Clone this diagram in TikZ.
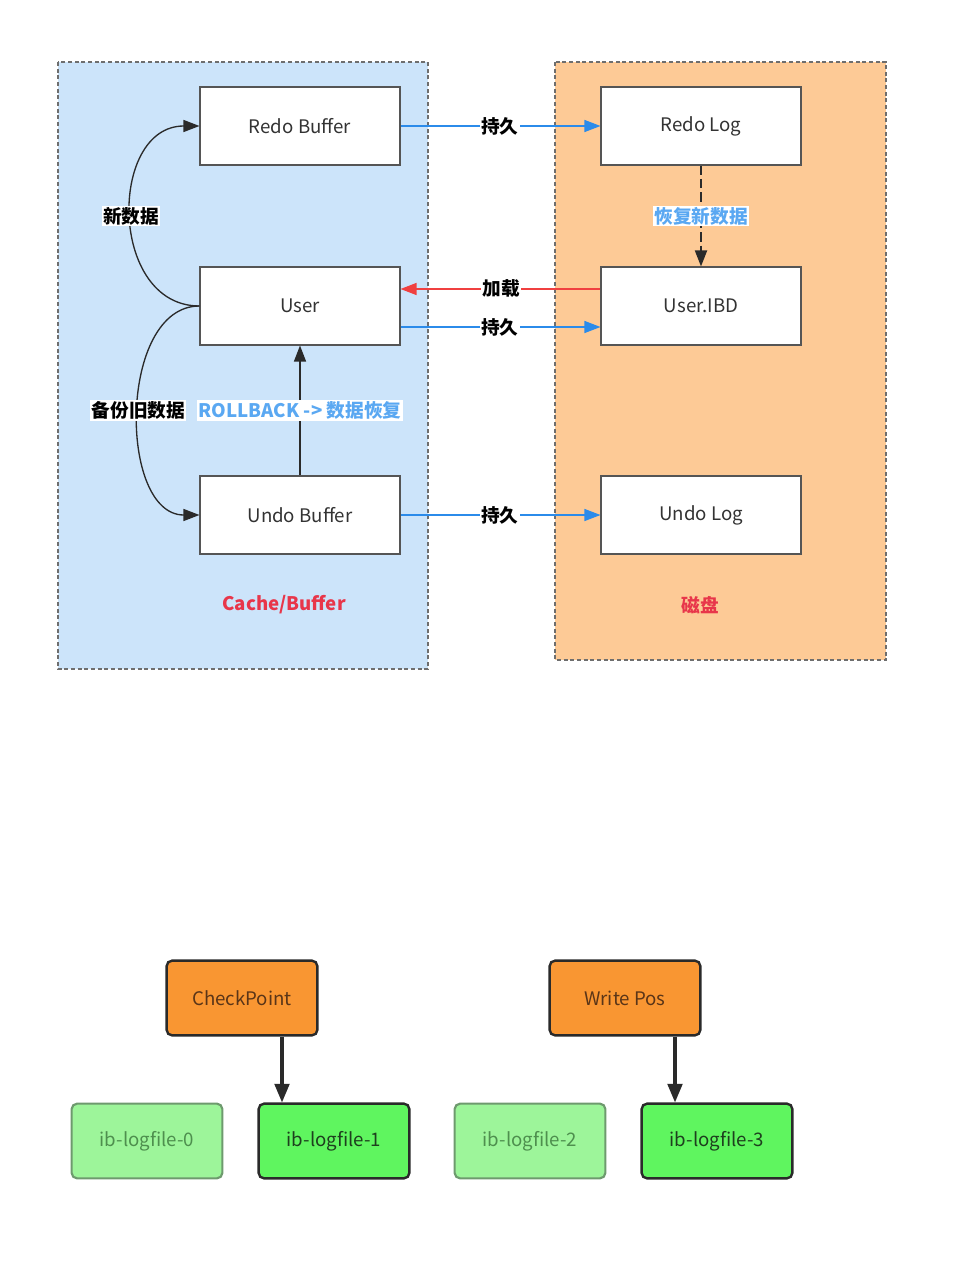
\documentclass[tikz,border=0pt]{standalone}
\usepackage{fontspec}
\setmainfont{Noto Sans CJK SC}
\usetikzlibrary{arrows.meta}
\definecolor{cachebg}{HTML}{CCE4FA}
\definecolor{diskbg}{HTML}{FDCA96}
\definecolor{framegray}{HTML}{6E6E6E}
\definecolor{boxline}{HTML}{555555}
\definecolor{txt}{HTML}{333333}
\definecolor{persist}{HTML}{2B8BEA}
\definecolor{loadred}{HTML}{F04040}
\definecolor{lblblue}{HTML}{5AA8F2}
\definecolor{titlered}{HTML}{E8364A}
\definecolor{orangefill}{HTML}{F99632}
\definecolor{orangetext}{HTML}{5A3518}
\definecolor{lightgreen}{HTML}{9DF59A}
\definecolor{lightgreenline}{HTML}{6E9A6E}
\definecolor{lightgreentext}{HTML}{4E8F4E}
\definecolor{brightgreen}{HTML}{5FF55F}
\definecolor{darkline}{HTML}{2A2A2A}
\definecolor{darkgreentext}{HTML}{1E3F1E}
\tikzset{
  x=0.75pt, y=-0.75pt,
  container/.style={draw=framegray, dash pattern=on 3pt off 2pt, line width=0.8pt},
  membox/.style={draw=boxline, fill=white, line width=0.8pt, minimum width=150pt, minimum height=58.5pt, inner sep=0pt, text=txt, font=\fontsize{14}{16}\selectfont},
  zhlbl/.style={font=\fontsize{14}{16}\selectfont\bfseries, text=black, inner sep=1pt},
  persistarrow/.style={draw=persist, line width=0.9pt, -{Triangle[length=12pt,width=9pt]}},
  darkarrow/.style={draw=darkline, line width=1pt, -{Triangle[length=12pt,width=9pt]}},
  ptrarrow/.style={draw=darkline, line width=2.4pt, -{Triangle[length=14pt,width=11pt]}},
  ptrbox/.style={draw=darkline, line width=1.8pt, fill=orangefill, rounded corners=4pt, minimum width=113pt, minimum height=56pt, inner sep=0pt, text=orangetext, font=\fontsize{14}{16}\selectfont},
  oldfile/.style={draw=lightgreenline, line width=1.6pt, fill=lightgreen, rounded corners=4pt, minimum width=113pt, minimum height=56pt, inner sep=0pt, text=lightgreentext, font=\fontsize{14}{16}\selectfont},
  curfile/.style={draw=darkline, line width=1.8pt, fill=brightgreen, rounded corners=4pt, minimum width=113pt, minimum height=56pt, inner sep=0pt, text=darkgreentext, font=\fontsize{14}{16}\selectfont},
}
\begin{document}
\begin{tikzpicture}
\fill[white] (0,0) rectangle (961,1284);
\useasboundingbox (0,0) rectangle (961,1284);
% containers
\filldraw[container, fill=cachebg] (58,62) rectangle (428,669);
\filldraw[container, fill=diskbg] (555,62) rectangle (886,660);
% nodes
\node[membox] (redobuf) at (300,126) {Redo Buffer};
\node[membox] (user) at (300,306) {User};
\node[membox] (undobuf) at (300,515) {Undo Buffer};
\node[membox] (redolog) at (701,126) {Redo Log};
\node[membox] (ibd) at (701,306) {User.IBD};
\node[membox] (undolog) at (701,515) {Undo Log};
% arrows
\draw[persistarrow] (redobuf.east) -- node[zhlbl, fill=white, pos=0.497] {持久} (redolog.west);
\draw[draw=loadred, line width=0.9pt, -{Triangle[length=12pt,width=9pt]}] (ibd.west |- 0,289) -- node[zhlbl, fill=white, pos=0.497] {加载} (user.east |- 0,289);
\draw[persistarrow] (user.east |- 0,327) -- node[zhlbl, fill=white, pos=0.497] {持久} (ibd.west |- 0,327);
\draw[persistarrow] (undobuf.east) -- node[zhlbl, fill=white, pos=0.497] {持久} (undolog.west);
\draw[darkarrow, line width=1.4pt, dash pattern=on 7pt off 3pt] (redolog.south) -- node[fill=white, font=\fontsize{14}{16}\selectfont\bfseries, text=lblblue, inner sep=1pt] {恢复新数据} (ibd.north);
\draw[darkarrow] (undobuf.north) -- node[fill=white, font=\fontsize{14}{16}\selectfont\bfseries, text=lblblue, inner sep=1.5pt] {ROLLBACK -> 数据恢复} (user.south);
\draw[darkarrow] (user.west) to[out=180, in=180, looseness=1.3] node[zhlbl, fill=white] {新数据} (redobuf.west);
\draw[darkarrow] (user.west) to[out=180, in=180, looseness=1.0] node[zhlbl, fill=white] {备份旧数据} (undobuf.west);
% titles
\node[font=\fontsize{14}{16}\selectfont\bfseries, text=titlered] (cachet) at (284,605) {Cache/Buffer};
\node[font=\fontsize{14}{16}\selectfont\bfseries, text=titlered] (diskt) at (700,605) {磁盘};
% bottom diagram
\node[ptrbox] (cp) at (242,998) {CheckPoint};
\node[ptrbox] (wp) at (625,998) {Write Pos};
\node[oldfile] (f0) at (147,1141) {ib-logfile-0};
\node[curfile] (f1) at (334,1141) {ib-logfile-1};
\node[oldfile] (f2) at (530,1141) {ib-logfile-2};
\node[curfile] (f3) at (717,1141) {ib-logfile-3};
\draw[ptrarrow] (cp.south -| 282,0) -- (f1.north -| 282,0);
\draw[ptrarrow] (wp.south -| 675,0) -- (f3.north -| 675,0);
\end{tikzpicture}
\end{document}
